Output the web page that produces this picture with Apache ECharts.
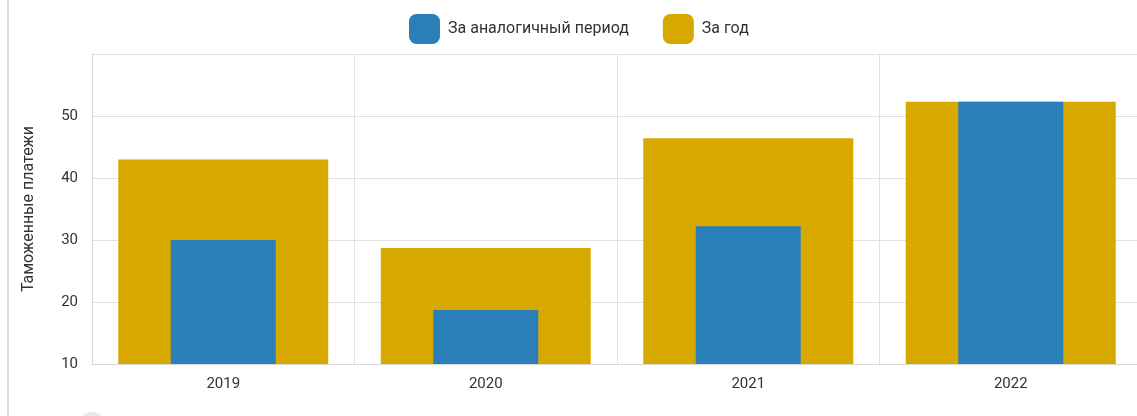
<!DOCTYPE html>
<html>
<head>
<meta charset="utf-8">
<script src="https://cdn.jsdelivr.net/npm/echarts@6/dist/echarts.min.js"></script>
<style>
html,body{margin:0;padding:0;background:#fff;overflow:hidden;}
#frame{position:absolute;left:7px;top:0;width:2px;height:416px;background:#dcdcdc;}
#knob{position:absolute;left:79px;top:412px;width:26px;height:26px;border-radius:50%;background:#e6e6e6;}
#chart{position:absolute;left:0;top:0;width:1137px;height:416px;}
</style>
</head>
<body>
<div id="frame"></div>
<div id="knob"></div>
<div id="chart"></div>
<script>
const categories = ['2019', '2020', '2021', '2022'];
const periodValues = [30.0, 18.7, 32.2, 52.3];
const yearValues = [43.0, 28.7, 46.4, 52.3];
const seriesNames = ['За аналогичный период', 'За год'];
const axisName = 'Таможенные платежи';

const chart = echarts.init(document.getElementById('chart'));
const font = 'Roboto, "Noto Sans", sans-serif';
chart.setOption({
  animation: false,
  textStyle: {fontFamily: font},
  legend: {
    data: seriesNames,
    left: 404, top: 9,
    itemWidth: 31, itemHeight: 30, itemGap: 34,
    itemStyle: {borderRadius: 3},
    textStyle: {fontSize: 16, color: '#333', fontFamily: font, padding: [0, 0, 0, 3]}
  },
  grid: {left: 92, top: 54, right: -5, bottom: 52, containLabel: false, outerBoundsMode: 'none'},
  xAxis: [
    {
      type: 'category', data: categories,
      axisLine: {show: true, lineStyle: {color: '#d9d9d9'}},
      axisTick: {show: false},
      splitLine: {show: true, lineStyle: {color: '#e0e0e0'}},
      axisLabel: {fontSize: 15, color: '#333', margin: 13, fontFamily: font}
    },
    {
      type: 'category', data: categories, show: false
    }
  ],
  yAxis: {
    type: 'value', min: 10, max: 60, interval: 10,
    name: axisName, nameLocation: 'middle', nameGap: 55, nameRotate: 90,
    nameTextStyle: {fontSize: 16, color: '#333', fontFamily: font},
    axisLine: {show: true, lineStyle: {color: '#d9d9d9'}},
    axisTick: {show: false},
    splitLine: {show: true, lineStyle: {color: '#e0e0e0'}},
    axisLabel: {fontSize: 15, color: '#333', margin: 14, showMaxLabel: false, fontFamily: font}
  },
  series: [
    {
      name: seriesNames[1], type: 'bar', xAxisIndex: 0,
      data: yearValues, barWidth: '80%',
      itemStyle: {color: '#d7a800'}
    },
    {
      name: seriesNames[0], type: 'bar', xAxisIndex: 1,
      data: periodValues, barWidth: '40%',
      itemStyle: {color: '#2a7fb8'}
    }
  ]
});
</script>
</body>
</html>
